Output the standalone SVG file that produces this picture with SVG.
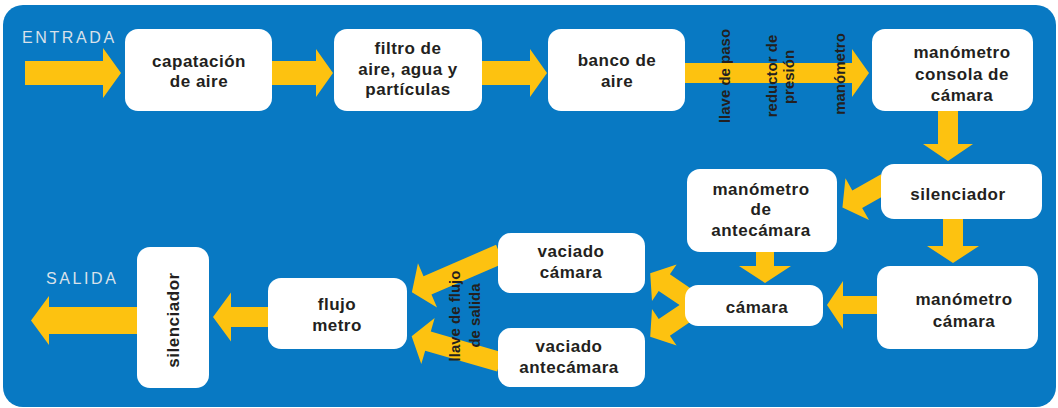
<svg xmlns="http://www.w3.org/2000/svg" width="1058" height="408" viewBox="0 0 1058 408">
<style>
.bg{fill:#0879C3}
.box{fill:#FFFFFF}
.arr{fill:#FDC210}
.t{font-family:"Liberation Sans",Arial,sans-serif;font-weight:bold;font-size:17px;fill:#231F20;text-anchor:middle;letter-spacing:0.5px}
.v{font-family:"Liberation Sans",Arial,sans-serif;font-weight:bold;font-size:15px;fill:#231F20;text-anchor:middle}
.lbl{font-family:"Liberation Sans",Arial,sans-serif;font-size:16px;fill:#D9E1EA;letter-spacing:2.6px}
</style>
<rect class="bg" x="3" y="5" width="1053" height="402" rx="20"/>
<text class="lbl" x="22" y="43">ENTRADA</text>
<text class="lbl" x="46" y="284">SALIDA</text>
<g id="connectors">
<polygon class="arr" transform="translate(25,73)" points="0,-12 78,-12 78,-25 96,0 78,25 78,12 0,12"/>
<polygon class="arr" transform="translate(270,73)" points="0,-12 46,-12 46,-24 63,0 46,24 46,12 0,12"/>
<polygon class="arr" transform="translate(480,73)" points="0,-12 50,-12 50,-24 67,0 50,24 50,12 0,12"/>
<polygon class="arr" transform="translate(683,73)" points="0,-10 169,-10 169,-24 186,0 169,24 169,10 0,10"/>
<polygon class="arr" transform="translate(948,109) rotate(90)" points="0,-10 35,-10 35,-25 52,0 35,25 35,10 0,10"/>
<polygon class="arr" transform="translate(953,217) rotate(90)" points="0,-10 29,-10 29,-26 46,0 29,26 29,10 0,10"/>
<polygon class="arr" transform="translate(886,183) rotate(150.6)" points="0,-10 33,-10 33,-24 50,0 33,24 33,10 0,10"/>
<polygon class="arr" transform="translate(765,250) rotate(90)" points="0,-9 16,-9 16,-26 33,0 16,26 16,9 0,9"/>
<polygon class="arr" transform="translate(879,305) rotate(180)" points="0,-9 36,-9 36,-24 52,0 36,24 36,9 0,9"/>
<polygon class="arr" transform="translate(690,300) rotate(214)" points="0,-10 31,-10 31,-22 48,0 31,22 31,10 0,10"/>
<polygon class="arr" transform="translate(690,310) rotate(146)" points="0,-10 31,-10 31,-22 48,0 31,22 31,10 0,10"/>
<polygon class="arr" transform="translate(500,254) rotate(156.6)" points="0,-10 79,-10 79,-24 96,0 79,24 79,10 0,10"/>
<polygon class="arr" transform="translate(500,362) rotate(196.2)" points="0,-10 75,-10 75,-24 92,0 75,24 75,10 0,10"/>
<polygon class="arr" transform="translate(270,317) rotate(180)" points="0,-10 39,-10 39,-24.5 57,0 39,24.5 39,10 0,10"/>
<polygon class="arr" transform="translate(140,320.5) rotate(180)" points="0,-13.5 91,-13.5 91,-24.5 109,0 91,24.5 91,13.5 0,13.5"/>
<text class="v" transform="translate(730,76) rotate(-90)">llave de paso</text>
<text class="v" transform="translate(777,76) rotate(-90)">reductor de</text>
<text class="v" transform="translate(794,77) rotate(-90)">presión</text>
<text class="v" transform="translate(845,74) rotate(-90)">manómetro</text>
<text class="v" transform="translate(460,316) rotate(-90)">llave de flujo</text>
<text class="v" transform="translate(480,315.5) rotate(-90)">de salida</text>
</g>
<g id="n-captacion">
<rect class="box" x="125" y="29" width="147" height="82" rx="13"/>
<text class="t" x="199" y="67">capatación</text>
<text class="t" x="199" y="87">de aire</text>
</g>
<g id="n-filtro">
<rect class="box" x="334" y="29" width="148" height="82" rx="13"/>
<text class="t" x="408" y="54">filtro de</text>
<text class="t" x="408" y="75">aire, agua y</text>
<text class="t" x="408" y="95">partículas</text>
</g>
<g id="n-banco">
<rect class="box" x="548" y="29" width="137" height="82" rx="13"/>
<text class="t" x="617" y="66">banco de</text>
<text class="t" x="617" y="87">aire</text>
</g>
<g id="n-manometro-consola">
<rect class="box" x="872" y="29" width="161" height="82" rx="13"/>
<text class="t" x="962" y="58">manómetro</text>
<text class="t" x="962" y="80">consola de</text>
<text class="t" x="962" y="101">cámara</text>
</g>
<g id="n-silenciador-1">
<rect class="box" x="881" y="164" width="161" height="55" rx="13"/>
<text class="t" x="958" y="200">silenciador</text>
</g>
<g id="n-manometro-camara">
<rect class="box" x="877" y="266" width="161" height="83" rx="13"/>
<text class="t" x="964" y="305">manómetro</text>
<text class="t" x="964" y="327">cámara</text>
</g>
<g id="n-manometro-antecamara">
<rect class="box" x="687" y="169" width="150" height="83" rx="13"/>
<text class="t" x="761" y="195">manómetro</text>
<text class="t" x="761" y="215">de</text>
<text class="t" x="761" y="236">antecámara</text>
</g>
<g id="n-camara">
<rect class="box" x="685" y="285" width="138" height="41" rx="13"/>
<text class="t" x="757" y="313">cámara</text>
</g>
<g id="n-vaciado-camara">
<rect class="box" x="498" y="233" width="147" height="60" rx="13"/>
<text class="t" x="571" y="257">vaciado</text>
<text class="t" x="571" y="278">cámara</text>
</g>
<g id="n-vaciado-antecamara">
<rect class="box" x="498" y="328" width="147" height="59" rx="13"/>
<text class="t" x="569" y="352">vaciado</text>
<text class="t" x="569" y="373">antecámara</text>
</g>
<g id="n-flujometro">
<rect class="box" x="268" y="278" width="139" height="71" rx="13"/>
<text class="t" x="337" y="310">flujo</text>
<text class="t" x="337" y="331">metro</text>
</g>
<g id="n-silenciador-2">
<rect class="box" x="137" y="247" width="72" height="141" rx="13"/>
<text class="t" transform="translate(179,320) rotate(-90)">silenciador</text>
</g>
</svg>
